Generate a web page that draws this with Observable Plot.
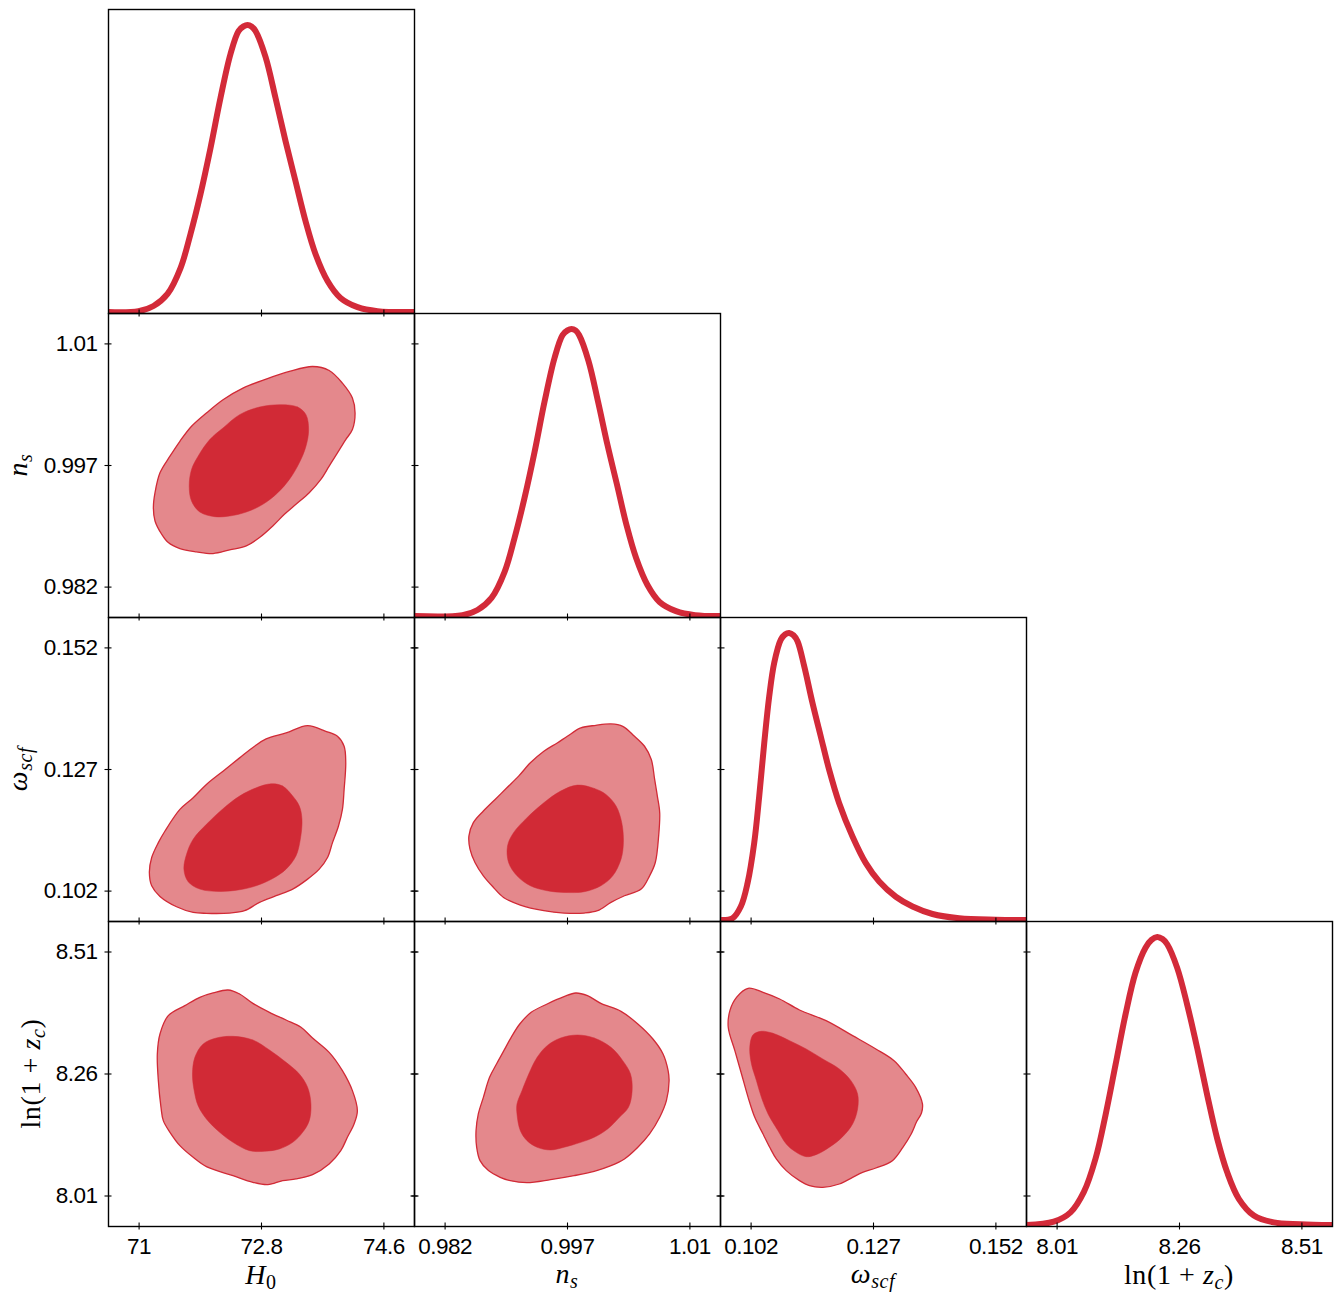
<!DOCTYPE html>
<html>
<head>
<meta charset="utf-8">
<script src="https://cdn.jsdelivr.net/npm/d3@7"></script>
<script src="https://cdn.jsdelivr.net/npm/@observablehq/plot@0.6"></script>
<style>
html, body { margin: 0; padding: 0; background: #fff; }
#chart { position: relative; width: 1340px; height: 1292px; overflow: hidden; background: #fff; }
#chart > div { position: absolute; }
#chart svg { max-width: none !important; overflow: visible; display: block; }
</style>
</head>
<body>
<div id="chart"></div>
<script>
// ---------------- data ----------------
const H0_domain = [70.55, 75.05];
const ns_domain = [0.97825, 1.01575];
const om_domain = [0.09575, 0.15825];
const ln_domain = [7.9475, 8.5725];

const H0_ticks = [71, 72.8, 74.6];
const ns_ticks = [0.982, 0.997, 1.012];
const om_ticks = [0.102, 0.127, 0.152];
const ln_ticks = [8.01, 8.26, 8.51];

const H0_tickLabels = ["71", "72.8", "74.6"];
const ns_tickLabels = ["0.982", "0.997", "1.01"];
const om_tickLabels = ["0.102", "0.127", "0.152"];
const ln_tickLabels = ["8.01", "8.26", "8.51"];

// 1D marginal posteriors (normalised to peak = 1)
const H0_grid = [70.55, 70.991, 71.212, 71.418, 71.609, 71.756, 71.903, 72.050, 72.197, 72.344, 72.462, 72.535, 72.594, 72.653, 72.712, 72.859, 73.006, 73.153, 73.300, 73.447, 73.594, 73.771, 73.962, 74.212, 74.506, 75.05];
const H0_pdf  = [0, 0.003, 0.021, 0.063, 0.153, 0.272, 0.411, 0.571, 0.746, 0.899, 0.979, 0.995, 1.0, 0.995, 0.979, 0.889, 0.746, 0.596, 0.456, 0.317, 0.202, 0.108, 0.049, 0.017, 0.003, 0];

const ns_grid = [0.97825, 0.98413, 0.98597, 0.98769, 0.98928, 0.99051, 0.99173, 0.99296, 0.99418, 0.99541, 0.99639, 0.99700, 0.99749, 0.99798, 0.99842, 0.99957, 1.00075, 1.00190, 1.00308, 1.00423, 1.00541, 1.00680, 1.00828, 1.01030, 1.01263, 1.01575];
const ns_pdf  = [0, 0.003, 0.021, 0.063, 0.153, 0.272, 0.411, 0.571, 0.746, 0.899, 0.979, 0.995, 1.0, 0.995, 0.979, 0.889, 0.746, 0.596, 0.456, 0.317, 0.202, 0.108, 0.049, 0.017, 0.003, 0];

const om_grid = [0.09575, 0.09820, 0.09990, 0.10127, 0.10263, 0.10365, 0.10468, 0.10570, 0.10672, 0.10807, 0.10892, 0.10978, 0.11066, 0.11148, 0.11285, 0.11454, 0.11624, 0.11795, 0.11999, 0.12271, 0.12543, 0.12816, 0.13156, 0.13497, 0.13905, 0.14450, 0.15198, 0.15825];
const om_pdf  = [0, 0.006, 0.047, 0.128, 0.268, 0.430, 0.616, 0.779, 0.896, 0.977, 0.995, 1.0, 0.992, 0.971, 0.884, 0.756, 0.639, 0.523, 0.407, 0.291, 0.198, 0.134, 0.081, 0.047, 0.021, 0.006, 0.001, 0];

const ln_grid = [7.9475, 8.0033, 8.0374, 8.0645, 8.0884, 8.1089, 8.1293, 8.1497, 8.1701, 8.1906, 8.2028, 8.2145, 8.2253, 8.2349, 8.2553, 8.2757, 8.2962, 8.3166, 8.3370, 8.3574, 8.3811, 8.4118, 8.4526, 8.5072, 8.5725];
const ln_pdf  = [0, 0.0115, 0.044, 0.114, 0.230, 0.382, 0.556, 0.731, 0.876, 0.963, 0.990, 1.0, 0.993, 0.975, 0.893, 0.765, 0.614, 0.451, 0.300, 0.183, 0.091, 0.033, 0.009, 0.003, 0];

// 2D credible contours (68% inner, 95% outer), [x, y]
const H0_ns_outer = [[73.551,1.00921],[73.795,1.00872],[73.990,1.00716],[74.137,1.00532],[74.176,1.00348],[74.137,1.00143],[74.039,1.00020],[73.917,0.99856],[73.795,0.99692],[73.673,0.99528],[73.502,0.99364],[73.307,0.99221],[73.137,0.99098],[72.966,0.98954],[72.771,0.98811],[72.576,0.98708],[72.332,0.98659],[72.088,0.98614],[71.844,0.98635],[71.600,0.98676],[71.429,0.98749],[71.332,0.98852],[71.234,0.99016],[71.210,0.99180],[71.234,0.99364],[71.307,0.99610],[71.454,0.99815],[71.600,0.99999],[71.771,1.00184],[71.990,1.00348],[72.234,1.00512],[72.527,1.00655],[72.868,1.00766],[73.210,1.00860]];
const H0_ns_inner = [[73.088,1.00450],[73.332,1.00421],[73.454,1.00327],[73.493,1.00143],[73.454,0.99938],[73.356,0.99733],[73.210,0.99528],[73.039,0.99364],[72.820,0.99221],[72.576,0.99126],[72.332,0.99077],[72.112,0.99069],[71.893,0.99126],[71.771,0.99262],[71.737,0.99446],[71.771,0.99651],[71.868,0.99815],[72.039,1.00020],[72.234,1.00163],[72.478,1.00327],[72.771,1.00421]];

const H0_om_outer = [[73.478,0.13602],[73.746,0.13485],[73.917,0.13383],[74.015,0.13178],[74.039,0.12837],[74.015,0.12290],[73.990,0.11880],[73.932,0.11539],[73.844,0.11197],[73.771,0.10890],[73.649,0.10651],[73.478,0.10446],[73.259,0.10241],[73.015,0.10105],[72.771,0.09968],[72.551,0.09797],[72.332,0.09749],[71.990,0.09743],[71.795,0.09763],[71.551,0.09879],[71.307,0.10091],[71.185,0.10310],[71.151,0.10583],[71.185,0.10890],[71.283,0.11197],[71.381,0.11436],[71.600,0.11880],[71.795,0.12119],[71.990,0.12393],[72.234,0.12666],[72.478,0.12939],[72.698,0.13178],[72.868,0.13328],[73.161,0.13451]];
const H0_om_inner = [[72.942,0.12406],[73.112,0.12359],[73.259,0.12154],[73.356,0.11949],[73.395,0.11676],[73.371,0.11266],[73.307,0.10924],[73.161,0.10651],[72.966,0.10460],[72.722,0.10310],[72.478,0.10228],[72.185,0.10193],[71.893,0.10241],[71.722,0.10392],[71.659,0.10651],[71.698,0.10958],[71.795,0.11266],[71.990,0.11573],[72.234,0.11894],[72.478,0.12154],[72.722,0.12324]];

const ns_om_outer = [[1.00233,0.13636],[1.00377,0.13588],[1.00521,0.13383],[1.00644,0.13178],[1.00727,0.12905],[1.00768,0.12495],[1.00801,0.12154],[1.00830,0.11812],[1.00817,0.11334],[1.00776,0.10788],[1.00706,0.10514],[1.00603,0.10241],[1.00398,0.10105],[1.00233,0.09968],[1.00068,0.09797],[0.99904,0.09749],[0.99657,0.09749],[0.99410,0.09797],[0.99122,0.09913],[0.98916,0.10070],[0.98793,0.10275],[0.98669,0.10514],[0.98566,0.10788],[0.98505,0.11061],[0.98492,0.11334],[0.98546,0.11607],[0.98669,0.11846],[0.98813,0.12085],[0.98957,0.12324],[0.99101,0.12563],[0.99245,0.12837],[0.99410,0.13076],[0.99574,0.13246],[0.99698,0.13383],[0.99863,0.13554],[1.00048,0.13608]];
const ns_om_inner = [[0.99821,0.12379],[1.00027,0.12311],[1.00171,0.12188],[1.00295,0.11949],[1.00365,0.11607],[1.00385,0.11197],[1.00356,0.10856],[1.00254,0.10514],[1.00109,0.10310],[0.99904,0.10187],[0.99657,0.10173],[0.99451,0.10207],[0.99245,0.10310],[0.99081,0.10514],[0.98978,0.10788],[0.98965,0.11129],[0.99039,0.11402],[0.99204,0.11710],[0.99410,0.12017],[0.99616,0.12256]];

const H0_ln_outer = [[72.307,8.4321],[72.478,8.4240],[72.673,8.4048],[72.917,8.3864],[73.161,8.3707],[73.381,8.3557],[73.551,8.3338],[73.795,8.3044],[73.990,8.2669],[74.137,8.2259],[74.210,8.1849],[74.161,8.1576],[74.063,8.1303],[73.966,8.1029],[73.795,8.0756],[73.551,8.0538],[73.307,8.0449],[73.112,8.0415],[72.893,8.0333],[72.673,8.0381],[72.381,8.0517],[71.990,8.0702],[71.795,8.0893],[71.600,8.1132],[71.454,8.1405],[71.356,8.1644],[71.322,8.1917],[71.283,8.2464],[71.268,8.3010],[71.307,8.3420],[71.429,8.3796],[71.673,8.4000],[71.893,8.4171],[72.088,8.4260]];
const H0_ln_inner = [[72.381,8.3372],[72.673,8.3297],[72.917,8.3092],[73.161,8.2839],[73.356,8.2600],[73.478,8.2327],[73.527,8.1986],[73.502,8.1644],[73.405,8.1405],[73.259,8.1200],[73.063,8.1064],[72.844,8.1016],[72.624,8.1029],[72.381,8.1200],[72.185,8.1405],[71.990,8.1678],[71.868,8.1951],[71.810,8.2259],[71.785,8.2600],[71.820,8.2942],[71.942,8.3215],[72.137,8.3338]];

const ns_ln_outer = [[0.99801,8.4260],[0.99945,8.4205],[1.00109,8.4048],[1.00356,8.3884],[1.00562,8.3625],[1.00747,8.3317],[1.00871,8.3010],[1.00933,8.2669],[1.00945,8.2464],[1.00912,8.2054],[1.00830,8.1712],[1.00706,8.1371],[1.00562,8.1098],[1.00398,8.0859],[1.00233,8.0722],[1.00027,8.0606],[0.99780,8.0517],[0.99492,8.0435],[0.99204,8.0374],[0.98998,8.0415],[0.98875,8.0483],[0.98731,8.0620],[0.98628,8.0825],[0.98587,8.1098],[0.98579,8.1439],[0.98607,8.1781],[0.98669,8.2122],[0.98745,8.2532],[0.98830,8.2805],[0.98920,8.3078],[0.99010,8.3352],[0.99115,8.3625],[0.99255,8.3864],[0.99451,8.4035],[0.99657,8.4185]];
const ns_ln_inner = [[0.99821,8.3399],[1.00027,8.3338],[1.00233,8.3147],[1.00377,8.2873],[1.00472,8.2600],[1.00492,8.2259],[1.00447,8.1917],[1.00336,8.1712],[1.00192,8.1473],[1.00027,8.1303],[0.99863,8.1200],[0.99657,8.1098],[0.99492,8.1043],[0.99328,8.1098],[0.99204,8.1234],[0.99122,8.1439],[0.99081,8.1781],[0.99081,8.1986],[0.99142,8.2259],[0.99225,8.2600],[0.99328,8.2942],[0.99451,8.3181],[0.99616,8.3338]];

const om_ln_outer = [[0.10139,8.4356],[0.10444,8.4274],[0.10783,8.4137],[0.11189,8.3912],[0.11731,8.3693],[0.12273,8.3386],[0.12748,8.3113],[0.13120,8.2873],[0.13357,8.2600],[0.13561,8.2327],[0.13700,8.1986],[0.13680,8.1800],[0.13580,8.1620],[0.13470,8.1371],[0.13300,8.1098],[0.13086,8.0824],[0.12748,8.0674],[0.12477,8.0585],[0.12273,8.0483],[0.12002,8.0346],[0.11664,8.0278],[0.11393,8.0312],[0.11189,8.0415],[0.10918,8.0620],[0.10715,8.0859],[0.10580,8.1098],[0.10444,8.1371],[0.10275,8.1712],[0.10139,8.2122],[0.10004,8.2600],[0.09868,8.3078],[0.09733,8.3557],[0.09767,8.3898],[0.09902,8.4171]];
const om_ln_inner = [[0.10410,8.3475],[0.10647,8.3434],[0.10986,8.3283],[0.11325,8.3113],[0.11664,8.2908],[0.12002,8.2703],[0.12239,8.2464],[0.12375,8.2191],[0.12375,8.1883],[0.12273,8.1576],[0.12070,8.1316],[0.11799,8.1098],[0.11528,8.0947],[0.11325,8.0906],[0.11122,8.0995],[0.10918,8.1166],[0.10749,8.1439],[0.10546,8.1781],[0.10410,8.2122],[0.10309,8.2464],[0.10207,8.2805],[0.10173,8.3147],[0.10241,8.3406]];

// ---------------- layout / style ----------------
const W = 306;
const rowH = [304, 304, 304, 305];
const colLeft = [108, 414, 720, 1026];
const rowTop = [9, 313, 617, 921];
const DARK = "#d12a36", LIGHT = "#e4888c", CURVE = "#d32a39";
const pdfDomain = [-0.0052, 1.054];

const P = [
  {domain: H0_domain, ticks: H0_ticks, labels: H0_tickLabels, grid: H0_grid, pdf: H0_pdf,
   name: [{t: "H", it: true}, {t: "0", sub: true}], xBase: 1284, yBase: null},
  {domain: ns_domain, ticks: ns_ticks, labels: ns_tickLabels, grid: ns_grid, pdf: ns_pdf,
   name: [{t: "n", it: true}, {t: "s", it: true, sub: true}], xBase: 1283, yBase: 27},
  {domain: om_domain, ticks: om_ticks, labels: om_tickLabels, grid: om_grid, pdf: om_pdf,
   name: [{t: "ω", it: true}, {t: "scf", it: true, sub: true}], xBase: 1283, yBase: 27},
  {domain: ln_domain, ticks: ln_ticks, labels: ln_tickLabels, grid: ln_grid, pdf: ln_pdf,
   name: [{t: "ln(1 + "}, {t: "z", it: true}, {t: "c", it: true, sub: true}, {t: ")"}], xBase: 1284, yBase: 40}
];

const contours = {
  "10": [H0_ns_outer, H0_ns_inner],
  "20": [H0_om_outer, H0_om_inner],
  "21": [ns_om_outer, ns_om_inner],
  "30": [H0_ln_outer, H0_ln_inner],
  "31": [ns_ln_outer, ns_ln_inner],
  "32": [om_ln_outer, om_ln_inner]
};

function richLabel(svg, parts, x, y, rotate, size) {
  const t = d3.select(svg).append("text")
    .attr("transform", `translate(${x},${y})${rotate ? " rotate(-90)" : ""}`)
    .attr("text-anchor", "middle")
    .attr("fill", "#000")
    .style("font-family", "'Liberation Serif', 'Times New Roman', serif")
    .style("font-size", size + "px")
    .style("letter-spacing", "0.6px")
    .style("white-space", "pre");
  let shift = 0;
  for (const p of parts) {
    const want = p.sub ? 4.5 : 0;
    const ts = t.append("tspan").text(p.t);
    if (want !== shift) { ts.attr("dy", want - shift); shift = want; }
    if (p.it) ts.style("font-style", "italic");
    if (p.sub) ts.style("font-size", Math.round(size * 0.7) + "px");
  }
}

const chart = document.getElementById("chart");
const tickStyle = {stroke: "#000", strokeWidth: 1.1, fill: "none", label: null};

for (let r = 0; r < 4; r++) {
  for (let c = 0; c <= r; c++) {
    const xp = P[c], yp = P[r], is1D = r === c;
    const H = rowH[r];
    const mL = c === 0 ? 108 : 0;
    const mB = r === 3 ? 1292 - rowTop[3] - H : 0;
    const marks = [];
    if (is1D) {
      const d = xp.grid.map((x, i) => ({x, y: xp.pdf[i]}));
      marks.push(Plot.line(d, {x: "x", y: "y", stroke: CURVE, strokeWidth: 6, curve: "catmull-rom", clip: true}));
    } else {
      const [outer, inner] = contours[`${r}${c}`];
      marks.push(Plot.line(outer, {x: d => d[0], y: d => d[1], curve: "catmull-rom-closed", fill: LIGHT, stroke: DARK, strokeWidth: 1.3}));
      marks.push(Plot.line(inner, {x: d => d[0], y: d => d[1], curve: "catmull-rom-closed", fill: DARK, stroke: DARK, strokeWidth: 0.5}));
    }
    marks.push(Plot.frame({stroke: "#000", strokeWidth: 1.4}));
    marks.push(Plot.axisX(xp.ticks, {anchor: "bottom", tickSize: 7, dy: -3.5, ...tickStyle}));
    if (!is1D) {
      marks.push(Plot.axisY(yp.ticks, {anchor: "left", tickSize: 7, dx: 3.5, ...tickStyle}));
      marks.push(Plot.axisY(yp.ticks, {anchor: "right", tickSize: 7, dx: -3.5, ...tickStyle}));
    }
    if (r === 3) {
      marks.push(Plot.axisX(xp.ticks, {anchor: "bottom", tickSize: 3.5, tickPadding: 8.5, stroke: "none", fill: "#000",
        fontSize: 22.5, label: null, tickFormat: d => xp.labels[xp.ticks.indexOf(d)]}));
    }
    if (c === 0 && r > 0) {
      marks.push(Plot.axisY(yp.ticks, {anchor: "left", tickSize: 3.5, tickPadding: 7.5, stroke: "none", fill: "#000",
        fontSize: 22.5, label: null, tickFormat: d => yp.labels[yp.ticks.indexOf(d)]}));
    }
    const svg = Plot.plot({
      width: W + mL,
      height: H + mB,
      marginLeft: mL, marginRight: 0, marginTop: 0, marginBottom: mB,
      x: {domain: xp.domain, axis: null},
      y: {domain: is1D ? pdfDomain : yp.domain, axis: null},
      style: {overflow: "visible", background: "transparent", color: "#000",
              fontFamily: "'Liberation Sans', Arial, sans-serif", letterSpacing: "-0.5px"},
      marks
    });
    if (r === 3) richLabel(svg, xp.name, mL + W / 2, xp.xBase - rowTop[3], false, 28);
    if (c === 0 && r > 0) richLabel(svg, yp.name, yp.yBase, H / 2, true, 28);
    const wrap = document.createElement("div");
    wrap.style.left = (colLeft[c] - mL) + "px";
    wrap.style.top = rowTop[r] + "px";
    wrap.style.width = (W + mL) + "px";
    wrap.style.height = (H + mB) + "px";
    wrap.appendChild(svg);
    chart.appendChild(wrap);
  }
}
</script>
</body>
</html>
